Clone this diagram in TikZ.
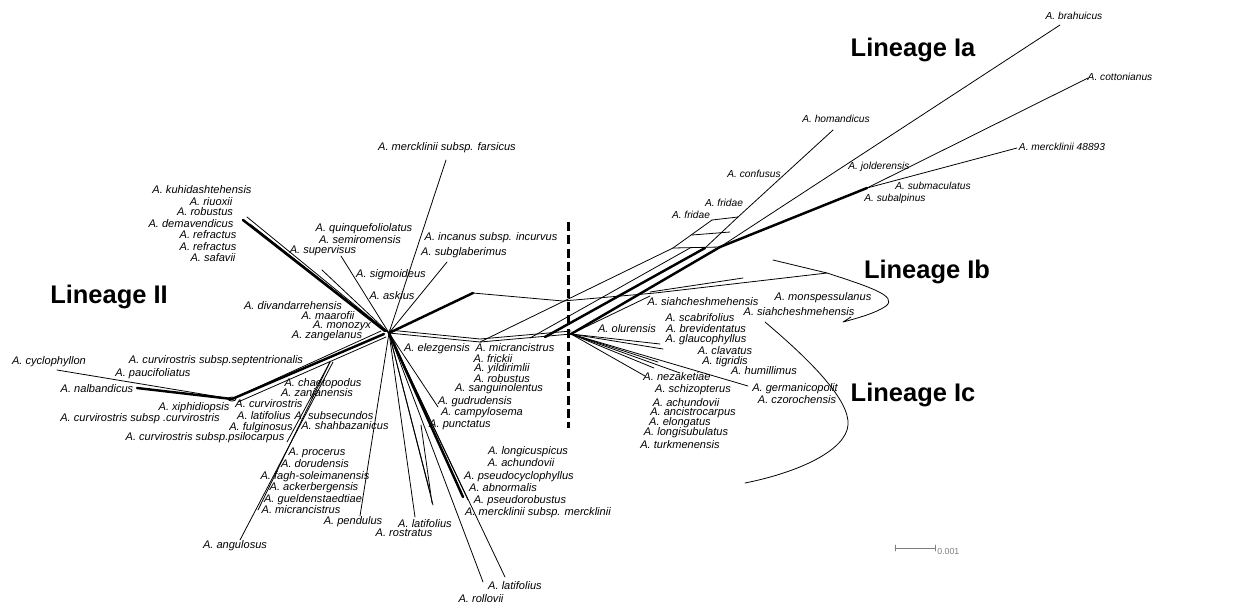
\documentclass[tikz,border=0pt]{standalone}
\usepackage{fontspec}
\setmainfont{Liberation Sans}
\tikzset{
  taxon/.style={font=\fontsize{6.3}{7}\selectfont\itshape, inner sep=0pt},
  taxonsm/.style={font=\fontsize{5.8}{6}\selectfont\itshape, inner sep=0pt},
  lineage/.style={font=\fontsize{14.5}{16}\selectfont\bfseries, inner sep=0pt},
  edge/.style={line width=0.45pt},
  heavy/.style={line width=1.4pt},
}
\begin{document}
\begin{tikzpicture}[x=0.02cm, y=-0.02cm, line join=round, line cap=round]
\useasboundingbox (0,0) rectangle (1247,606);

% Hubs of the network
\coordinate (hub) at (389,333);
\coordinate (rhub) at (571,334);
\coordinate (left) at (232,399);
\coordinate (fork) at (330,362);
\coordinate (mid) at (480,342);
\coordinate (kink) at (473,293);
\coordinate (ladder) at (720,247);
\coordinate (ia) at (867,188);

% Lineage II, upper branches
\draw[heavy] (243,220) -- (385,331);
\draw[edge] (247,217) -- (hub);
\draw[edge] (250,224) -- (hub);
\draw[edge] (322,270) -- (hub);
\draw[edge] (341,256) -- (hub);
\draw[edge] (446,160) -- (hub);
\draw[edge] (447,262) -- (hub);

% Lineage II, left bundle
\draw[heavy] (left) -- (384,334);
\draw[edge] (236,397) -- (381,331);
\draw[edge] (238,402) -- (386,337);
\draw[edge] (left) -- (57,370);
\draw[heavy] (left) -- (137,388);
\draw[edge] (left) ellipse (4 and 2);
\draw[edge] (fork) -- (287,442);
\draw[edge] (fork) -- (258,510);
\draw[edge] (333,362) -- (240,540);

% Branches below the hub
\draw[edge] (hub) -- (360,516);
\draw[edge] (hub) -- (415,517);
\draw[edge] (hub) -- (430,492);
\draw[edge] (hub) -- (433,505);
\draw[edge] (421,425) -- (432,503);
\draw[edge] (hub) -- (483,582);
\draw[edge] (hub) -- (505,577);
\draw[heavy] (hub) -- (463,497);
\draw[edge] (hub) -- (468,500);
\draw[edge] (hub) -- (438,407);

% Towards lineage I
\draw[heavy] (hub) -- (kink);
\draw[edge] (kink) -- (563,301) -- (655,293) -- (827,273);
\draw[edge] (650,292) -- (743,278);
\draw[edge] (hub) -- (mid) -- (rhub);
\draw[edge] (hub) ++(0,-3) -- (480,339) -- (571,331);
\draw[edge] (mid) -- (673,248);
\draw[edge] (530,338) -- (690,248);
\draw[heavy] (545,337) -- (705,248);
\draw[heavy] (rhub) -- (ladder);
\draw[edge] (rhub) -- (650,296);

% Split at the fridae samples
\draw[edge] (673,248) -- (ladder);
\draw[edge] (673,248) -- (712,220);
\draw[edge] (705,248) -- (738,217);
\draw[edge] (712,220) -- (738,217);
\draw[edge] (692,235) -- (730,232);

% Lineage Ia
\draw[edge] (738,217) -- (833,130);
\draw[edge] (ladder) -- (1060,25);
\draw[heavy] (ladder) -- (ia);
\draw[edge] (ia) -- (1088,78);
\draw[edge] (ia) -- (1017,148);

% Lineage Ic fan
\draw[edge] (rhub) -- (660,344);
\draw[edge] (rhub) -- (663,349);
\draw[edge] (rhub) -- (658,362);
\draw[edge] (rhub) -- (654,368);
\draw[edge] (rhub) -- (645,376);
\draw[edge] (rhub) -- (680,373);
\draw[edge] (rhub) -- (748,386);

% Hand drawn enclosures
\draw[edge] (773,260) -- (827,273) .. controls (870,287) and (898,296) .. (886,306)
  .. controls (876,313) and (858,318) .. (843,322) -- (851,317);
\draw[edge] (765,322) .. controls (810,360) and (850,400) .. (848,425)
  .. controls (846,450) and (800,472) .. (745,483);

% Split between lineages
\draw[line width=1.7pt, line cap=butt, dash pattern=on 5.2pt off 2.4pt] (568,222) -- (568,428);

% Scale bar
\draw[gray, edge] (895,548) -- (935,548);
\draw[gray, edge] (895,545) -- (895,551);
\draw[gray, edge] (935,545) -- (935,551);
\node[gray, font=\fontsize{5}{5}\selectfont, inner sep=0pt, anchor=west] (scale) at (937,551) {0.001};

% Lineage names
\node[lineage] (linII) at (109,297) {Lineage II};
\node[lineage] (linIa) at (913,50) {Lineage Ia};
\node[lineage] (linIb) at (927,272) {Lineage Ib};
\node[lineage] (linIc) at (913,395) {Lineage Ic};

% Samples, lineage II
\node[taxon] (kuh) at (202,190) {A. kuhidashtehensis};
\node[taxon] (riu) at (211,202) {A. riuoxii};
\node[taxon] (rob1) at (205,212) {A. robustus};
\node[taxon] (dem) at (191,224) {A. demavendicus};
\node[taxon] (ref1) at (208,235) {A. refractus};
\node[taxon] (ref2) at (208,247) {A. refractus};
\node[taxon] (saf) at (213,258) {A. safavii};
\node[taxon] (qui) at (364,229) {A. quinquefoliolatus};
\node[taxon] (sem) at (360,240) {A. semiromensis};
\node[taxon] (sup) at (323,251) {A. supervisus};
\node[taxon] (sig) at (391,275) {A. sigmoideus};
\node[taxon] (ask) at (392,296) {A. askius};
\node[taxon] (inc) at (491,238) {A. incanus subsp. incurvus};
\node[taxon] (sgl) at (464,253) {A. subglaberimus};
\node[taxon] (far) at (447,148) {A. mercklinii subsp. farsicus};
\node[taxon] (div) at (293,306) {A. divandarrehensis};
\node[taxon] (maa) at (328,316) {A. maarofii};
\node[taxon] (mon) at (342,326) {A. monozyx};
\node[taxon] (zan) at (327,336) {A. zangelanus};
\node[taxon] (cyc) at (49,362) {A. cyclophyllon};
\node[taxon] (sep) at (216,361) {A. curvirostris subsp.septentrionalis};
\node[taxon] (pau) at (153,374) {A. paucifoliatus};
\node[taxon] (nal) at (97,389) {A. nalbandicus};
\node[taxon] (cha) at (323,384) {A. chaetopodus};
\node[taxon] (zanj) at (317,394) {A. zanjanensis};
\node[taxon] (xip) at (194,408) {A. xiphidiopsis};
\node[taxon] (cur) at (269,404) {A. curvirostris};
\node[taxon] (ccur) at (140,419) {A. curvirostris subsp .curvirostris};
\node[taxon] (lat1) at (264,416) {A. latifolius};
\node[taxon] (subs) at (334,416) {A. subsecundos};
\node[taxon] (ful) at (261,428) {A. fulginosus};
\node[taxon] (sha) at (345,426) {A. shahbazanicus};
\node[taxon] (psi) at (205,438) {A. curvirostris subsp.psilocarpus};
\node[taxon] (pro) at (317,453) {A. procerus};
\node[taxon] (dor) at (315,464) {A. dorudensis};
\node[taxon] (fag) at (315,477) {A. fagh-soleimanensis};
\node[taxon] (ack) at (314,488) {A. ackerbergensis};
\node[taxon] (gue) at (313,500) {A. gueldenstaedtiae};
\node[taxon] (mic1) at (301,510) {A. micrancistrus};
\node[taxon] (pen) at (353,522) {A. pendulus};
\node[taxon] (lat2) at (425,524) {A. latifolius};
\node[taxon] (ros) at (404,533) {A. rostratus};
\node[taxon] (ang) at (235,546) {A. angulosus};
\node[taxon] (lat3) at (515,586) {A. latifolius};
\node[taxon] (rol) at (481,599) {A. rollovii};
\node[taxon] (lon) at (528,452) {A. longicuspicus};
\node[taxon] (ach1) at (521,463) {A. achundovii};
\node[taxon] (pcy) at (519,477) {A. pseudocyclophyllus};
\node[taxon] (abn) at (503,488) {A. abnormalis};
\node[taxon] (psr) at (520,501) {A. pseudorobustus};
\node[taxon] (mer) at (538,513) {A. mercklinii subsp. mercklinii};
\node[taxon] (gud) at (475,402) {A. gudrudensis};
\node[taxon] (cam) at (482,413) {A. campylosema};
\node[taxon] (pun) at (460,425) {A. punctatus};
\node[taxon] (ele) at (437,349) {A. elezgensis};
\node[taxon] (mic2) at (515,348) {A. micrancistrus};
\node[taxon] (fri) at (493,359) {A. frickii};
\node[taxon] (yil) at (502,369) {A. yildirimlii};
\node[taxon] (rob2) at (502,379) {A. robustus};
\node[taxon] (san) at (499,389) {A. sanguinolentus};

% Samples, lineages Ib and Ic
\node[taxon] (olu) at (627,329) {A. olurensis};
\node[taxon] (sia1) at (703,302) {A. siahcheshmehensis};
\node[taxon] (msp) at (823,298) {A. monspessulanus};
\node[taxon] (sia2) at (799,312) {A. siahcheshmehensis};
\node[taxon] (sca) at (700,318) {A. scabrifolius};
\node[taxon] (bre) at (706,329) {A. brevidentatus};
\node[taxon] (gla) at (706,340) {A. glaucophyllus};
\node[taxon] (cla) at (725,351) {A. clavatus};
\node[taxon] (tig) at (725,362) {A. tigridis};
\node[taxon] (hum) at (764,371) {A. humillimus};
\node[taxon] (nez) at (677,377) {A. nezaketiae};
\node[taxon] (sch) at (693,390) {A. schizopterus};
\node[taxon] (ach2) at (686,403) {A. achundovii};
\node[taxon] (anc) at (693,413) {A. ancistrocarpus};
\node[taxon] (elo) at (680,423) {A. elongatus};
\node[taxon] (lsu) at (686,433) {A. longisubulatus};
\node[taxon] (tur) at (680,445) {A. turkmenensis};
\node[taxon] (ger) at (795,389) {A. germanicopolit};
\node[taxon] (czo) at (797,400) {A. czorochensis};

% Samples, lineage Ia
\node[taxonsm] (bra) at (1074,16) {A. brahuicus};
\node[taxonsm] (cot) at (1120,77) {A. cottonianus};
\node[taxonsm] (hom) at (836,119) {A. homandicus};
\node[taxonsm] (m48) at (1062,147) {A. mercklinii 48893};
\node[taxonsm] (con) at (754,174) {A. confusus};
\node[taxonsm] (jol) at (879,167) {A. jolderensis};
\node[taxonsm] (smc) at (933,186) {A. submaculatus};
\node[taxonsm] (sal) at (895,199) {A. subalpinus};
\node[taxonsm] (fri1) at (724,203) {A. fridae};
\node[taxonsm] (fri2) at (691,215) {A. fridae};

\end{tikzpicture}
\end{document}
